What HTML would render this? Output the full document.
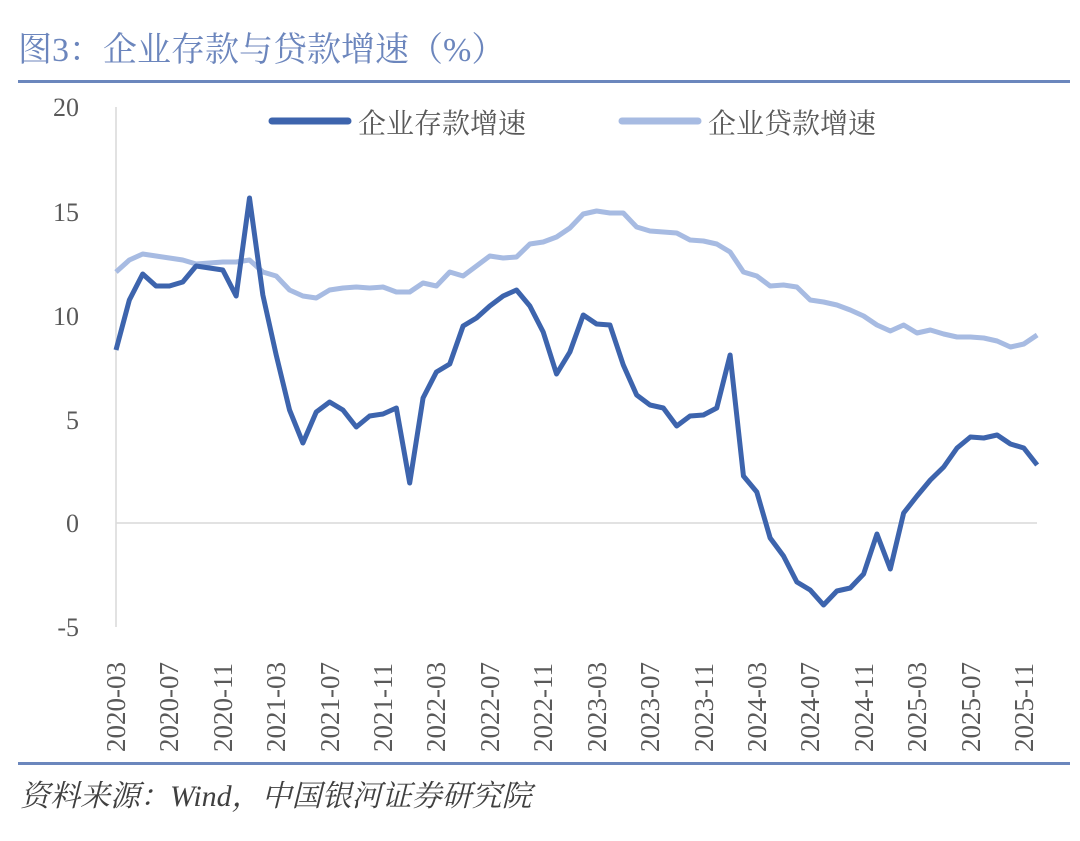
<!DOCTYPE html><html><head><meta charset="utf-8"><style>
body{margin:0;background:#fff;}
svg text{font-family:"Liberation Serif","Noto Serif CJK SC",serif;}
</style></head><body>
<svg width="1080" height="836" xmlns="http://www.w3.org/2000/svg">
<text x="18" y="61" font-size="34" fill="#6c86bd">图3：企业存款与贷款增速（%）</text>
<rect x="18" y="80" width="1052" height="3" fill="#6b87bd"/>
<rect x="18" y="762" width="1052" height="3" fill="#6b87bd"/>
<text x="20" y="806" font-size="30" fill="#404040" font-style="italic">资料来源：Wind，中国银河证券研究院</text>
<line x1="116" y1="107" x2="116" y2="627" stroke="#d9d9d9" stroke-width="1.5"/>
<line x1="116" y1="523" x2="1037" y2="523" stroke="#d9d9d9" stroke-width="1.5"/>
<g font-size="26" fill="#595959" text-anchor="end">
<text x="79" y="116">20</text><text x="79" y="221">15</text><text x="79" y="325">10</text>
<text x="79" y="429">5</text><text x="79" y="532">0</text><text x="79" y="636">-5</text>
</g>
<g font-size="27" fill="#595959">
<text transform="translate(125,752) rotate(-90)">2020-03</text>
<text transform="translate(178,752) rotate(-90)">2020-07</text>
<text transform="translate(232,752) rotate(-90)">2020-11</text>
<text transform="translate(285,752) rotate(-90)">2021-03</text>
<text transform="translate(339,752) rotate(-90)">2021-07</text>
<text transform="translate(392,752) rotate(-90)">2021-11</text>
<text transform="translate(445,752) rotate(-90)">2022-03</text>
<text transform="translate(499,752) rotate(-90)">2022-07</text>
<text transform="translate(552,752) rotate(-90)">2022-11</text>
<text transform="translate(606,752) rotate(-90)">2023-03</text>
<text transform="translate(659,752) rotate(-90)">2023-07</text>
<text transform="translate(713,752) rotate(-90)">2023-11</text>
<text transform="translate(766,752) rotate(-90)">2024-03</text>
<text transform="translate(819,752) rotate(-90)">2024-07</text>
<text transform="translate(873,752) rotate(-90)">2024-11</text>
<text transform="translate(926,752) rotate(-90)">2025-03</text>
<text transform="translate(980,752) rotate(-90)">2025-07</text>
<text transform="translate(1033,752) rotate(-90)">2025-11</text>
</g>
<line x1="272" y1="121" x2="348" y2="121" stroke="#3d64ad" stroke-width="7" stroke-linecap="round"/>
<text x="358" y="133" font-size="28" fill="#595959">企业存款增速</text>
<line x1="622" y1="121" x2="698" y2="121" stroke="#a7bbe2" stroke-width="7" stroke-linecap="round"/>
<text x="708" y="133" font-size="28" fill="#595959">企业贷款增速</text>
<g transform="translate(116,0) scale(13.35,1)" fill="none" stroke-linejoin="round">
<polyline vector-effect="non-scaling-stroke" stroke="#a7bbe2" stroke-width="5" points="0,272 1,260 2,254 3,256 4,258 5,260 6,264 7,263 8,262 9,262 10,260 11,272 12,276 13,290 14,296 15,298 16,290 17,288 18,287 19,288 20,287 21,292 22,292 23,283 24,286 25,272 26,276 27,266 28,256 29,258 30,257 31,244 32,242 33,237 34,228 35,214 36,211 37,213 38,213 39,227 40,231 41,232 42,233 43,240 44,241 45,244 46,252 47,272 48,276 49,286 50,285 51,287 52,300 53,302 54,305 55,310 56,316 57,325 58,331 59,325 60,333 61,330 62,334 63,337 64,337 65,338 66,341 67,347 68,344 69,335"/>
<polyline vector-effect="non-scaling-stroke" stroke="#3d64ad" stroke-width="5" points="0,350 1,300 2,274 3,286 4,286 5,282 6,266 7,268 8,270 9,296 10,198 11,295 12,355 13,410 14,443 15,412 16,402 17,410 18,427 19,416 20,414 21,408 22,483 23,398 24,372 25,364 26,326 27,318 28,306 29,296 30,290 31,306 32,332 33,374 34,352 35,315 36,324 37,325 38,365 39,395 40,405 41,408 42,426 43,416 44,415 45,408 46,355 47,476 48,492 49,538 50,556 51,582 52,590 53,605 54,591 55,588 56,574 57,534 58,569 59,513 60,496 61,480 62,467 63,448 64,437 65,438 66,435 67,444 68,448 69,465"/>
</g>
</svg>
</body></html>
